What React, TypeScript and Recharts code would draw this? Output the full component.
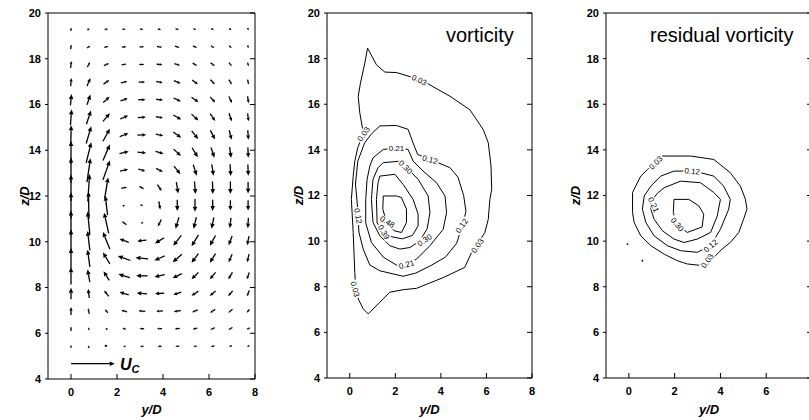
import React from 'react'
import { ComposedChart, Line, Scatter, XAxis, YAxis, ReferenceLine, Label } from 'recharts'

const font = '"Liberation Sans", Arial, Helvetica, sans-serif'

const xTicks = [0, 2, 4, 6, 8]
const xTicksRes = [0, 2, 4, 6]
const zTicks = [4, 6, 8, 10, 12, 14, 16, 18, 20]

// measurement grid of the velocity field (y/D columns, z/D rows)
const gridY = [0, 0.77, 1.54, 2.31, 3.08, 3.85, 4.62, 5.39, 6.16, 6.93, 7.7]
const gridZ = [19.29, 18.52, 17.75, 16.98, 16.21, 15.44, 14.67, 13.9, 13.13, 12.36, 11.59, 10.82, 10.05, 9.28, 8.51, 7.74, 6.97, 6.2, 5.43]

// in-plane velocity, drawn length in y/D units (one row per gridZ)
const velV = [
  [0.02, 0.12, 0.15, 0.15, 0.15, 0.15, 0.15, 0.12, 0.12, 0.1, 0.03],
  [0.03, 0.15, 0.18, 0.2, 0.2, 0.22, 0.2, 0.18, 0.15, 0.12, 0.04],
  [0.03, 0.12, 0.22, 0.22, 0.22, 0.25, 0.25, 0.2, 0.18, 0.12, 0.04],
  [0.03, 0.15, 0.25, 0.28, 0.28, 0.28, 0.3, 0.25, 0.2, 0.13, 0.04],
  [0.05, 0.15, 0.28, 0.32, 0.32, 0.3, 0.32, 0.3, 0.22, 0.14, 0.04],
  [0.05, 0.2, 0.3, 0.35, 0.35, 0.3, 0.35, 0.3, 0.22, 0.12, 0.04],
  [0.02, 0.22, 0.3, 0.38, 0.38, 0.32, 0.35, 0.28, 0.2, 0.1, 0.03],
  [0, 0.22, 0.3, 0.4, 0.38, 0.35, 0.32, 0.25, 0.15, 0.06, 0.02],
  [0, 0.15, 0.3, 0.35, 0.3, 0.3, 0.28, 0.15, 0.08, 0.03, 0.02],
  [0, 0.08, 0.15, 0.25, 0.2, 0.18, 0.08, 0.04, 0.02, 0, 0],
  [0, -0.02, -0.1, 0.08, 0.1, 0.06, 0, 0, 0, 0, 0],
  [0, -0.1, -0.2, -0.2, -0.1, -0.15, -0.15, -0.12, -0.1, -0.05, -0.03],
  [0, -0.1, -0.3, -0.4, -0.4, -0.4, -0.35, -0.3, -0.25, -0.15, -0.08],
  [0, -0.1, -0.3, -0.55, -0.55, -0.45, -0.4, -0.3, -0.25, -0.15, -0.08],
  [0, -0.1, -0.25, -0.5, -0.5, -0.45, -0.4, -0.3, -0.25, -0.18, -0.1],
  [0, -0.05, -0.2, -0.4, -0.45, -0.4, -0.35, -0.3, -0.25, -0.2, -0.1],
  [0, -0.05, -0.12, -0.25, -0.3, -0.3, -0.3, -0.25, -0.22, -0.18, -0.12],
  [0, -0.02, -0.08, -0.15, -0.2, -0.22, -0.22, -0.2, -0.2, -0.18, -0.15],
  [0, 0, -0.05, -0.1, -0.15, -0.18, -0.18, -0.15, -0.15, -0.12, -0.1],
]
const velW = [
  [0.15, 0.05, 0.02, 0, 0, 0, -0.03, -0.05, -0.05, -0.06, -0.1],
  [0.2, 0.1, 0.05, 0.02, 0, -0.03, -0.06, -0.08, -0.1, -0.1, -0.12],
  [0.3, 0.22, 0.1, 0.04, 0, -0.02, -0.08, -0.12, -0.14, -0.16, -0.16],
  [0.35, 0.35, 0.18, 0.06, 0, -0.05, -0.12, -0.18, -0.2, -0.22, -0.22],
  [0.5, 0.45, 0.25, 0.1, 0, -0.03, -0.15, -0.22, -0.25, -0.28, -0.3],
  [0.7, 0.6, 0.35, 0.15, 0.02, -0.05, -0.2, -0.28, -0.32, -0.35, -0.35],
  [0.85, 0.75, 0.55, 0.15, 0.02, -0.08, -0.25, -0.35, -0.4, -0.42, -0.42],
  [1.0, 0.9, 0.7, 0.1, -0.03, -0.1, -0.3, -0.42, -0.45, -0.48, -0.45],
  [1.1, 1.05, 0.85, 0.08, -0.08, -0.15, -0.35, -0.48, -0.5, -0.52, -0.5],
  [1.15, 1.2, 0.9, 0.05, -0.12, -0.28, -0.5, -0.55, -0.55, -0.55, -0.5],
  [1.15, 1.2, 0.85, 0.05, -0.08, -0.35, -0.5, -0.55, -0.5, -0.45, -0.45],
  [1.1, 1.0, 0.9, 0.15, -0.05, -0.3, -0.5, -0.5, -0.5, -0.45, -0.45],
  [1.0, 0.85, 0.75, 0.15, -0.05, -0.25, -0.45, -0.5, -0.45, -0.4, -0.4],
  [0.9, 0.75, 0.5, 0.2, 0.05, -0.2, -0.35, -0.4, -0.4, -0.35, -0.35],
  [0.75, 0.55, 0.4, 0.15, 0, -0.1, -0.2, -0.3, -0.3, -0.3, -0.3],
  [0.5, 0.4, 0.25, 0.12, 0.03, -0.03, -0.12, -0.2, -0.22, -0.22, -0.25],
  [0.35, 0.25, 0.15, 0.08, 0.02, -0.02, -0.05, -0.1, -0.15, -0.15, -0.15],
  [0.2, 0.12, 0.08, 0.05, 0.02, 0, -0.02, -0.05, -0.08, -0.1, -0.05],
  [0.12, 0.08, 0.04, 0.02, 0.01, 0, 0, -0.02, -0.03, -0.05, -0.05],
]

// reference vector U_C
const ucStart = [0, 4.67]
const ucEnd = [1.9, 4.67]
const ucText = [{ x: 2.13, z: 4.67 }]

// vorticity contours
const vort003 = [[0.78, 18.46], [1.17, 17.73], [1.54, 17.41], [2.05, 17.39], [2.93, 17.12], [3.37, 16.93], [4.4, 16.35], [5.27, 15.76], [5.86, 14.89], [6.08, 14.31], [6.2, 13.29], [6.23, 12.27], [6.15, 11.83], [6.08, 10.96], [5.93, 10.38], [5.57, 9.8], [5.35, 9.51], [5.05, 8.85], [4.1, 8.4], [2.93, 7.93], [2.34, 7.87], [1.76, 7.76], [1.32, 7.32], [0.81, 6.81], [0.59, 7.03], [0.37, 7.47], [0.26, 7.98], [0.22, 8.63], [0.15, 10.38], [0.07, 11.83], [0.15, 12.85], [0.22, 13.5], [0.35, 14.1], [0.6, 14.7], [0.44, 15.62], [0.37, 16.35], [0.47, 16.93], [0.66, 17.8], [0.78, 18.46]]
const vort012 = [[1.32, 15.05], [2.05, 15.07], [2.56, 14.9], [2.78, 14.3], [2.98, 13.8], [3.52, 13.58], [4.4, 13.22], [4.75, 12.8], [5.0, 12.0], [5.1, 11.3], [4.95, 10.7], [4.69, 9.9], [4.2, 9.3], [3.6, 8.95], [2.9, 8.6], [2.34, 8.46], [1.32, 8.7], [0.88, 8.95], [0.59, 9.65], [0.4, 10.4], [0.35, 11.4], [0.25, 12.5], [0.35, 13.5], [0.65, 14.3], [0.95, 14.7], [1.32, 15.05]]
const vort021 = [[1.02, 13.65], [1.47, 14.02], [2.0, 14.08], [2.56, 14.02], [2.78, 13.51], [3.22, 13.07], [3.81, 12.56], [4.18, 11.98], [4.25, 11.25], [4.1, 10.52], [3.52, 9.8], [2.93, 9.21], [2.49, 9.0], [2.05, 8.95], [1.47, 9.3], [0.95, 9.94], [0.7, 10.8], [0.7, 11.83], [0.76, 12.71], [0.88, 13.29], [1.02, 13.65]]
const vort030 = [[1.24, 13.22], [1.47, 13.44], [2.27, 13.51], [2.64, 13.07], [3.0, 12.71], [3.44, 11.98], [3.52, 11.25], [3.4, 10.55], [3.08, 10.01], [2.64, 9.72], [2.2, 9.65], [1.76, 9.8], [1.32, 10.23], [1.02, 10.82], [0.95, 11.83], [1.02, 12.71], [1.24, 13.22]]
const vort039 = [[1.24, 12.56], [1.32, 12.85], [1.98, 12.93], [2.34, 12.49], [2.78, 11.83], [3.0, 11.18], [3.0, 10.67], [2.75, 10.25], [2.3, 10.1], [1.8, 10.2], [1.47, 10.4], [1.2, 10.8], [1.17, 11.83], [1.24, 12.56]]
const vort048 = [[1.47, 11.98], [2.05, 11.98], [2.27, 11.91], [2.49, 11.4], [2.49, 10.82], [2.27, 10.38], [1.95, 10.45], [1.61, 10.85], [1.45, 11.4], [1.47, 11.98]]
const vortLabelPos = [[3.05, 17.07], [0.6, 14.7], [0.24, 7.9], [5.6, 9.8], [3.52, 13.58], [4.91, 10.68], [0.37, 11.1], [2.05, 14.06], [2.49, 8.98], [2.45, 13.25], [3.28, 10.05], [1.5, 10.4], [1.65, 10.85]]
const vortLabelText = ['0.03', '0.03', '0.03', '0.03', '0.12', '0.12', '0.12', '0.21', '0.21', '0.30', '0.30', '0.39', '0.48']
const vortLabelAngle = [25, -55, 75, -55, 15, -55, 80, 0, -15, 45, -35, 60, 30]

// residual vorticity contours
const res003 = [[1.47, 13.73], [2.7, 13.73], [3.71, 13.58], [4.43, 13.0], [4.87, 12.41], [5.09, 11.84], [5.16, 11.4], [5.01, 10.96], [4.8, 10.38], [4.43, 9.94], [4.07, 9.65], [3.71, 9.29], [3.27, 8.92], [2.55, 9.0], [2.12, 9.14], [1.54, 9.43], [0.96, 9.8], [0.52, 10.23], [0.23, 10.82], [0.16, 11.25], [0.16, 12.13], [0.3, 12.42], [0.52, 12.85], [0.81, 13.14], [1.17, 13.44], [1.47, 13.73]]
const res012 = [[1.39, 12.85], [1.97, 13.07], [2.77, 13.07], [3.13, 13.0], [3.71, 12.85], [4.14, 12.41], [4.43, 11.83], [4.36, 11.4], [4.0, 10.52], [3.57, 9.8], [2.99, 9.51], [2.26, 9.58], [1.68, 9.8], [1.1, 10.23], [0.74, 10.82], [0.59, 11.4], [0.67, 11.98], [0.96, 12.41], [1.39, 12.85]]
const res021 = [[1.54, 12.34], [2.26, 12.63], [3.13, 12.56], [3.71, 12.13], [4.0, 11.83], [3.86, 11.1], [3.57, 10.38], [2.99, 10.09], [2.41, 9.94], [1.97, 10.09], [1.47, 10.45], [1.1, 10.96], [0.96, 11.4], [1.03, 11.83], [1.25, 12.1], [1.54, 12.34]]
const res030 = [[1.97, 11.83], [2.62, 11.83], [3.06, 11.54], [3.27, 11.18], [3.2, 10.62], [2.55, 10.38], [2.12, 10.74], [1.94, 11.25], [1.97, 11.83]]
const resLabelPos = [[1.17, 13.44], [2.77, 13.07], [1.08, 11.6], [2.12, 10.74], [3.57, 9.8], [3.42, 9.14]]
const resLabelText = ['0.03', '0.12', '0.21', '0.30', '0.12', '0.03']
const resLabelAngle = [-45, 5, 65, 50, -40, -55]
const resSpecks = [[-0.06, 9.87], [0.59, 9.14]]

const tickFont = { fontSize: 11, fontWeight: 700, fill: '#000', fontFamily: font }
const titleFont = { fontSize: 13, fontWeight: 700, fontStyle: 'italic', fill: '#000', fontFamily: font }

const Arrow = (props: any) => {
  const { x1, y1, x2, y2 } = props
  const dx = x2 - x1
  const dy = y2 - y1
  const len = Math.hypot(dx, dy)
  if (len < 1.5) return <circle cx={x2} cy={y2} r={1.2} fill="#000" />
  const h = Math.min(5, Math.max(2.4, len * 0.45))
  const w = h * 0.45
  const ux = dx / len
  const uy = dy / len
  const bx = x2 - ux * h
  const by = y2 - uy * h
  return (
    <g>
      <line x1={x1} y1={y1} x2={bx} y2={by} stroke="#000" strokeWidth={1.3} />
      <polygon points={`${x2},${y2} ${bx - uy * w},${by + ux * w} ${bx + uy * w},${by - ux * w}`} fill="#000" />
    </g>
  )
}

const ContourLabel = (props: any) => {
  const { cx, cy, payload } = props
  return (
    <g transform={`translate(${cx},${cy}) rotate(${payload.angle})`}>
      <rect x={-9} y={-3.8} width={18} height={7.6} fill="#fff" />
      <text x={0} y={2.9} textAnchor="middle" fontSize={8} fontFamily={font} fill="#000">{payload.text}</text>
    </g>
  )
}

const UcLabel = (props: any) => {
  const { cx, cy } = props
  return (
    <text x={cx} y={cy + 6} fontSize={16} fontWeight={700} fontStyle="italic" fontFamily={font} fill="#000">
      U<tspan fontSize={11} dy={3}>C</tspan>
    </text>
  )
}

const Speck = (props: any) => <circle cx={props.cx} cy={props.cy} r={0.9} fill="#000" />

const toPts = (pts: number[][]) => pts.map(([x, z]) => ({ x, z }))

const contour = (pts: number[][], key: string) => (
  <Line key={key} data={toPts(pts)} dataKey="z" type="linear" stroke="#000" strokeWidth={1} dot={false} activeDot={false} isAnimationActive={false} legendType="none" />
)

const labels = (pos: number[][], text: string[], angle: number[], key: string) => (
  <Scatter key={key} data={pos.map(([x, z], i) => ({ x, z, text: text[i], angle: angle[i] }))} dataKey="z" shape={ContourLabel} isAnimationActive={false} legendType="none" />
)

function frame(chartWidth: number, yAxisWidth: number, rightMargin: number, bottomHeight: number, bottomTicks: number[], content: React.ReactNode[]) {
  return (
    <ComposedChart width={chartWidth} height={420} margin={{ top: 12, right: rightMargin, bottom: 0, left: 0 }}>
      <XAxis xAxisId={0} type="number" dataKey="x" domain={[-1, 8]} ticks={bottomTicks} interval={0} allowDataOverflow height={bottomHeight} tickSize={-5} tickMargin={14} stroke="#000" tick={tickFont}>
        <Label value="y/D" position="insideBottom" offset={6} {...titleFont} />
      </XAxis>
      <XAxis xAxisId="top" orientation="top" type="number" domain={[-1, 8]} ticks={xTicks} interval={0} allowDataOverflow height={1} tickSize={-5} tickFormatter={() => ''} stroke="#000" />
      <YAxis yAxisId={0} type="number" dataKey="z" domain={[4, 20]} ticks={zTicks} interval={0} allowDataOverflow width={yAxisWidth} tickSize={3} tickMargin={4} stroke="#000" tick={tickFont}>
        <Label value="z/D" angle={-90} position="center" {...titleFont} />
      </YAxis>
      <YAxis yAxisId="right" orientation="right" type="number" domain={[4, 20]} ticks={zTicks} interval={0} allowDataOverflow width={1} tickSize={-5} tickFormatter={() => ''} stroke="#000" />
      {content}
    </ComposedChart>
  )
}

export default function App() {
  const arrows = gridZ.flatMap((z, r) =>
    gridY.map((y, c) => {
      const v = velV[r][c]
      const w = velW[r][c]
      return (
        <ReferenceLine
          key={`a${r}-${c}`}
          segment={[{ x: y - v / 2, y: z - w / 2 }, { x: y + v / 2, y: z + w / 2 }]}
          shape={Arrow}
          ifOverflow="visible"
        />
      )
    })
  )
  const velocityContent = [
    ...arrows,
    <ReferenceLine key="uc" segment={[{ x: ucStart[0], y: ucStart[1] }, { x: ucEnd[0], y: ucEnd[1] }]} shape={Arrow} ifOverflow="visible" />,
    <Scatter key="uclabel" data={ucText} dataKey="z" shape={UcLabel} isAnimationActive={false} legendType="none" />,
  ]
  const vortContent = [
    contour(vort003, 'v1'),
    contour(vort012, 'v2'),
    contour(vort021, 'v3'),
    contour(vort030, 'v4'),
    contour(vort039, 'v5'),
    contour(vort048, 'v6'),
    labels(vortLabelPos, vortLabelText, vortLabelAngle, 'vl'),
  ]
  const resContent = [
    contour(res003, 'r1'),
    contour(res012, 'r2'),
    contour(res021, 'r3'),
    contour(res030, 'r4'),
    labels(resLabelPos, resLabelText, resLabelAngle, 'rl'),
    <Scatter key="specks" data={toPts(resSpecks)} dataKey="z" shape={Speck} isAnimationActive={false} legendType="none" />,
  ]

  return (
    <div style={{ position: 'absolute', left: 0, top: 0, width: 809, height: 420, overflow: 'hidden', background: '#fff' }}>
      <div style={{ position: 'absolute', left: 0, top: 0 }}>{frame(270, 48, 14, 41, xTicks, velocityContent)}</div>
      <div style={{ position: 'absolute', left: 270, top: 0 }}>{frame(275, 57, 12, 42, xTicks, vortContent)}</div>
      <div style={{ position: 'absolute', left: 545, top: 0 }}>{frame(275, 61, 7, 42, xTicksRes, resContent)}</div>
      <svg width={809} height={420} style={{ position: 'absolute', left: 0, top: 0, pointerEvents: 'none' }}>
        <text x={446} y={42} fontSize={20} fontFamily={font} fill="#000">vorticity</text>
        <text x={650} y={42} fontSize={20} fontFamily={font} fill="#000">residual vorticity</text>
      </svg>
    </div>
  )
}
